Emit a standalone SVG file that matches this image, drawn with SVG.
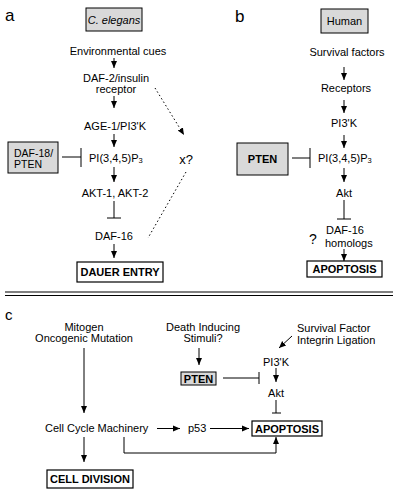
<svg xmlns="http://www.w3.org/2000/svg" width="400" height="492" viewBox="0 0 400 492">
<defs>
<marker id="ah" markerUnits="userSpaceOnUse" markerWidth="8" markerHeight="8" viewBox="0 0 8 8" refX="7" refY="4" orient="auto">
<path d="M0,1 L7,4 L0,7 Z" fill="#000"/>
</marker>
</defs>
<style>
text{font-family:"Liberation Sans",Arial,sans-serif;font-size:11px;fill:#000}
.c{text-anchor:middle}
.b{font-weight:bold}
.lab{font-size:17px}
.box{fill:#fff;stroke:#000;stroke-width:1.2}
.grey{fill:#d9d9d9;stroke:#000;stroke-width:1}
.ln{stroke:#000;stroke-width:1;fill:none}
.arr{stroke:#000;stroke-width:1;fill:none;marker-end:url(#ah)}
.dot{stroke:#000;stroke-width:1;fill:none;stroke-dasharray:1.5,2.5}
</style>

<!-- Panel labels -->
<text class="lab" x="5" y="21">a</text>
<text class="lab" x="235" y="22">b</text>
<text class="lab" x="5" y="320" style="font-size:15px">c</text>

<!-- separator -->
<line x1="5" y1="292" x2="393" y2="292" stroke="#000" stroke-width="1.2"/>
<line x1="5" y1="295.5" x2="393" y2="295.5" stroke="#000" stroke-width="1.2"/>

<!-- ===== Panel a nodes ===== -->
<g id="a-celegans"><rect class="grey" x="86" y="8" width="56" height="23"/><text class="c" x="114" y="24" font-style="italic">C. elegans</text></g>
<g id="a-env"><text class="c" x="118" y="55">Environmental cues</text></g>
<g id="a-daf2"><text class="c" x="116" y="82">DAF-2/insulin</text><text class="c" x="116" y="92.5">receptor</text></g>
<g id="a-age1"><text class="c" x="115" y="130">AGE-1/PI3'K</text></g>
<g id="a-daf18"><rect class="grey" x="8" y="142" width="50" height="31"/><text x="14" y="157" style="font-size:10.5px">DAF-18/</text><text x="14" y="168" style="font-size:10.5px">PTEN</text></g>
<g id="a-pip3"><text x="89" y="161.5">PI(3,4,5)P<tspan font-size="7.5" dy="1">3</tspan></text></g>
<g id="a-akt"><text class="c" x="115" y="197">AKT-1, AKT-2</text></g>
<g id="a-daf16"><text class="c" x="114" y="240">DAF-16</text></g>
<g id="a-x"><text class="c" x="186" y="164" style="font-size:13px">x?</text></g>
<g id="a-dauer"><rect class="box" x="77" y="262" width="86" height="20"/><text class="c b" x="120" y="276">DAUER ENTRY</text></g>

<!-- ===== Panel b nodes ===== -->
<g id="b-human"><rect class="grey" x="321" y="9" width="47" height="24"/><text class="c" x="344.5" y="25">Human</text></g>
<g id="b-surv"><text class="c" x="347" y="56">Survival factors</text></g>
<g id="b-rec"><text class="c" x="346" y="91.5">Receptors</text></g>
<g id="b-pi3k"><text class="c" x="344" y="127">PI3'K</text></g>
<g id="b-pten"><rect class="grey" x="237" y="143" width="51" height="32"/><text class="c b" x="262.5" y="162.5">PTEN</text></g>
<g id="b-pip3"><text x="318" y="162">PI(3,4,5)P<tspan font-size="7.5" dy="1">3</tspan></text></g>
<g id="b-akt"><text class="c" x="344" y="197">Akt</text></g>
<g id="b-daf16"><text x="309" y="244" style="font-size:14px">?</text><text x="326" y="234">DAF-16</text><text x="325" y="246.5">homologs</text></g>
<g id="b-apop"><rect class="box" x="307" y="261" width="75" height="16"/><text class="c b" x="344.5" y="273">APOPTOSIS</text></g>

<!-- ===== Panel c nodes ===== -->
<g id="c-mitogen"><text class="c" x="84" y="331">Mitogen</text><text class="c" x="84" y="342">Oncogenic Mutation</text></g>
<g id="c-death"><text class="c" x="203" y="331">Death Inducing</text><text class="c" x="203" y="342">Stimuli?</text></g>
<g id="c-surv"><text x="297" y="332">Survival Factor</text><text x="297" y="343.5">Integrin Ligation</text></g>
<g id="c-pi3k"><text class="c" x="276" y="365.5">PI3'K</text></g>
<g id="c-pten"><rect class="grey" x="181" y="372" width="35" height="13"/><text class="c b" x="198.5" y="382.5">PTEN</text></g>
<g id="c-akt"><text class="c" x="276" y="396.5">Akt</text></g>
<g id="c-ccm"><text x="45" y="432">Cell Cycle Machinery</text></g>
<g id="c-p53"><text x="188" y="432">p53</text></g>
<g id="c-apop"><rect class="box" x="252" y="421" width="70" height="15"/><text class="c b" x="287" y="432.5">APOPTOSIS</text></g>
<g id="c-div"><rect class="box" x="47" y="470" width="86" height="18"/><text class="c b" x="90" y="483">CELL DIVISION</text></g>

<!-- ===== Connectors ===== -->
<g id="connectors">
<!-- a -->
<line class="arr" x1="114" y1="58" x2="114" y2="68"/>
<line class="arr" x1="114" y1="96" x2="114" y2="108"/>
<line class="arr" x1="114" y1="134" x2="114" y2="147"/>
<line class="ln" x1="62" y1="157" x2="81" y2="157"/>
<line class="ln" x1="81" y1="148" x2="81" y2="167"/>
<line class="arr" x1="114" y1="167" x2="114" y2="182"/>
<line class="ln" x1="114" y1="201" x2="114" y2="218"/>
<line class="ln" x1="107" y1="218" x2="121" y2="218"/>
<line class="arr" x1="114" y1="244" x2="114" y2="258"/>
<line class="dot" x1="155" y1="88" x2="184" y2="135" marker-end="url(#ah)"/>
<line class="dot" x1="186" y1="172" x2="148" y2="238"/>
<!-- b -->
<line class="arr" x1="344" y1="67" x2="344" y2="80"/>
<line class="arr" x1="344" y1="100" x2="344" y2="113"/>
<line class="arr" x1="344" y1="135" x2="344" y2="148"/>
<line class="ln" x1="292" y1="158" x2="310" y2="158"/>
<line class="ln" x1="310" y1="148" x2="310" y2="168"/>
<line class="arr" x1="344" y1="168" x2="344" y2="182"/>
<line class="ln" x1="344" y1="200" x2="344" y2="219"/>
<line class="ln" x1="337" y1="219" x2="351" y2="219"/>
<line class="arr" x1="344" y1="249" x2="344" y2="261"/>
<!-- c -->
<line class="arr" x1="84" y1="348" x2="84" y2="413"/>
<line class="arr" x1="199" y1="348" x2="199" y2="365"/>
<line class="arr" x1="292" y1="336" x2="279" y2="348"/>
<line class="ln" x1="223" y1="378" x2="259" y2="378"/>
<line class="ln" x1="259" y1="372" x2="259" y2="384"/>
<line class="arr" x1="276" y1="368" x2="276" y2="382"/>
<line class="ln" x1="276" y1="400" x2="276" y2="413"/>
<line class="ln" x1="272" y1="413" x2="281" y2="413"/>
<line class="arr" x1="157" y1="428.5" x2="180" y2="428.5"/>
<line class="arr" x1="210" y1="428.5" x2="249" y2="428.5"/>
<polyline class="arr" points="124,437 124,453 276,453 276,437"/>
<line class="arr" x1="84" y1="437" x2="84" y2="462"/>
</g>
</svg>
